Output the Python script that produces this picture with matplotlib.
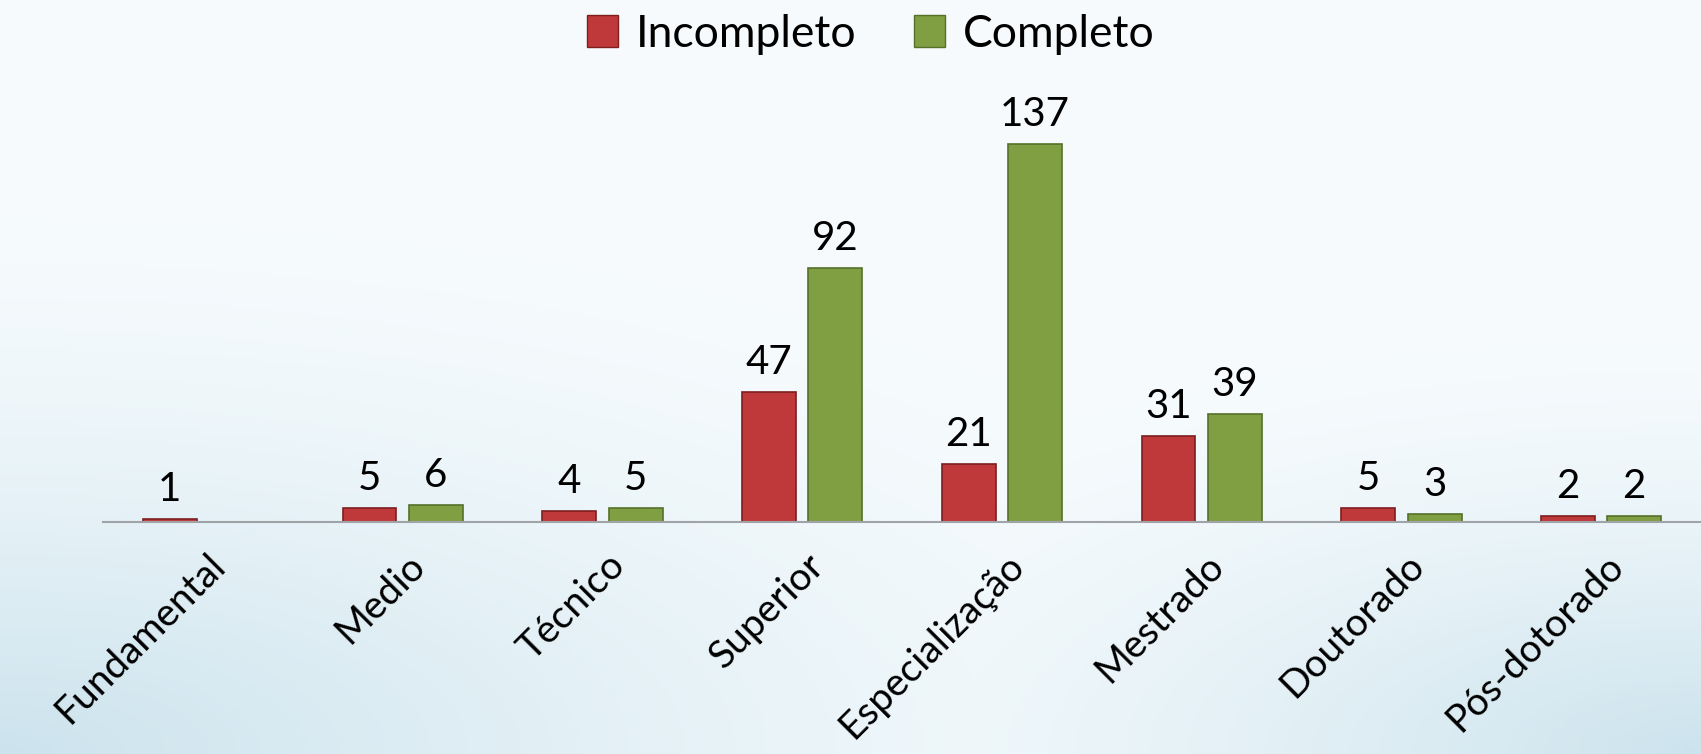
import numpy as np
import matplotlib
matplotlib.use('Agg')
import matplotlib.pyplot as plt
from matplotlib.patches import Patch

plt.rcParams['font.family'] = ['Lato', 'DejaVu Sans']

categories = ['Fundamental', 'Medio', 'Técnico', 'Superior', 'Especialização',
              'Mestrado', 'Doutorado', 'Pós-dotorado']
incompleto = [1, 5, 4, 47, 21, 31, 5, 2]
completo = [0, 6, 5, 92, 137, 39, 3, 2]
completo_labels = ['', '6', '5', '92', '137', '39', '3', '2']

RED = '#c0393a'
RED_EDGE = '#7e1f1f'
GREEN = '#7f9f42'
GREEN_EDGE = '#56702a'


def main():
    fig = plt.figure(figsize=(17.01, 7.54), dpi=100)

    # soft background gradient (light, bluish towards the bottom corners)
    bg = fig.add_axes([0, 0, 1, 1], zorder=-5)
    yy, xx = np.mgrid[0:1:200j, 0:1:400j]
    d_left = np.sqrt((xx * 1.2) ** 2 + ((1 - yy) * 1.4) ** 2)
    d_right = np.sqrt(((1 - xx) * 1.6) ** 2 + ((1 - yy) * 1.8) ** 2)
    t = np.clip(1 - np.minimum(d_left, d_right), 0, 1) ** 1.5
    base = np.array([0.965, 0.984, 0.992])
    corner = np.array([0.80, 0.89, 0.93])
    img = base[None, None, :] * (1 - t[..., None]) + corner[None, None, :] * t[..., None]
    bg.imshow(img, aspect='auto', extent=[0, 1, 0, 1], origin='upper')
    bg.axis('off')

    ax = fig.add_axes([0.0606, 0.3077, 0.9394, 0.615])
    ax.patch.set_alpha(0)
    x = np.arange(len(categories))
    w = 0.27
    off = 0.166
    ax.bar(x - off, incompleto, w, color=RED, edgecolor=RED_EDGE, linewidth=1.2,
           label='Incompleto')
    ax.bar(x + off, completo, w, color=GREEN, edgecolor=GREEN_EDGE, linewidth=1.2,
           label='Completo')

    for i in range(len(categories)):
        ax.text(x[i] - off, incompleto[i] + 4, str(incompleto[i]), ha='center',
                va='bottom', fontsize=29)
        if completo_labels[i]:
            ax.text(x[i] + off, completo[i] + 4, completo_labels[i], ha='center',
                    va='bottom', fontsize=29)

    ax.set_xlim(-0.5, len(categories) - 0.5)
    ax.set_ylim(0, 168)
    for s in ['top', 'right', 'left']:
        ax.spines[s].set_visible(False)
    ax.spines['bottom'].set_color('#a0a4a8')
    ax.spines['bottom'].set_linewidth(1.5)
    ax.set_yticks([])
    ax.set_xticks(x + 0.02)
    ax.set_xticklabels(categories, rotation=45, ha='right', va='top',
                       rotation_mode='anchor', fontsize=28)
    ax.tick_params(axis='x', length=0, pad=18)

    handles = [Patch(facecolor=RED, edgecolor=RED_EDGE), Patch(facecolor=GREEN, edgecolor=GREEN_EDGE)]
    fig.legend(handles, ['Incompleto', 'Completo'], loc='upper center',
               bbox_to_anchor=(0.512, 1.035), ncol=2, frameon=False, fontsize=32,
               handlelength=0.7, handleheight=0.7, handletextpad=0.4, columnspacing=1.3)

    fig.savefig('out.png', dpi=100)


if __name__ == '__main__':
    main()
